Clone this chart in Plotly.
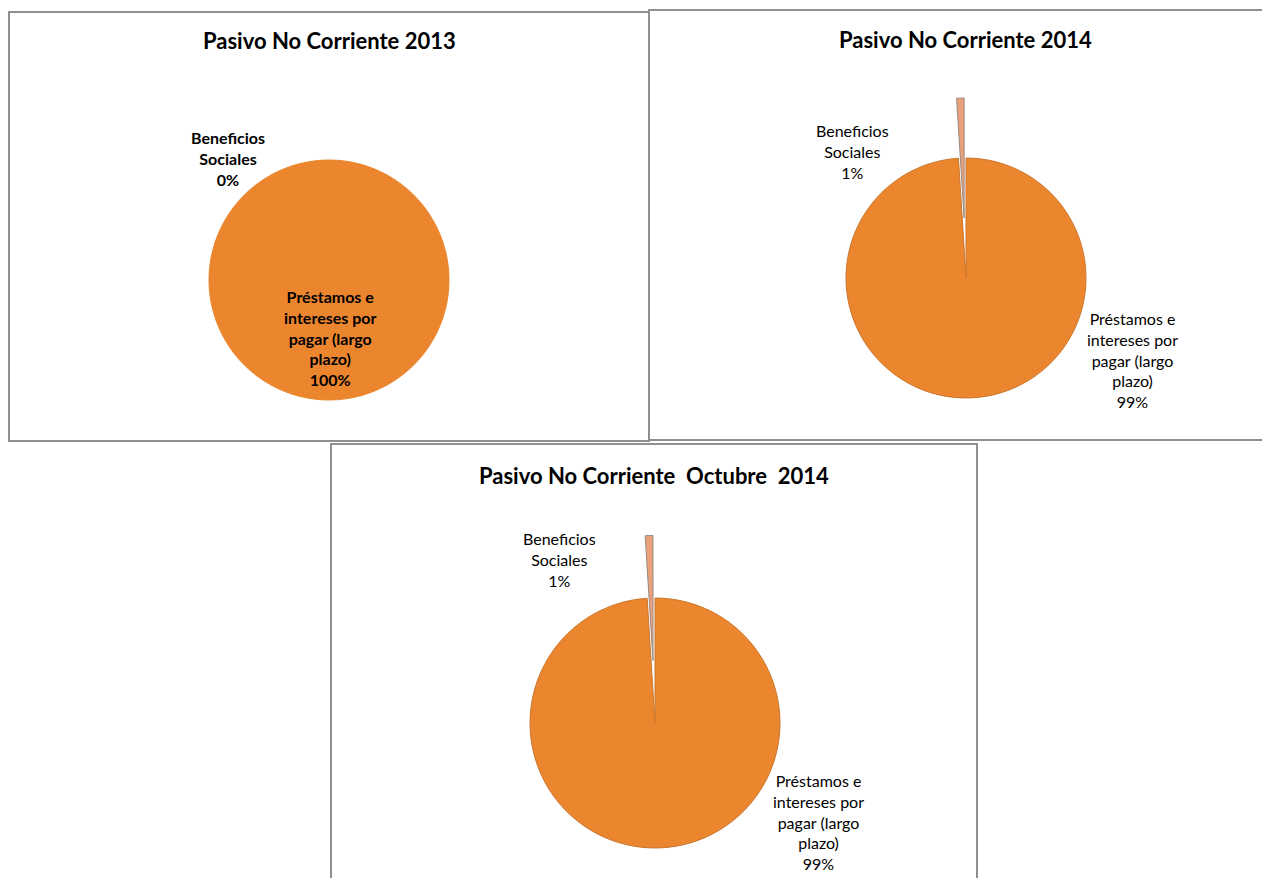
import textwrap
import plotly.graph_objects as go

# ---- data ----
categories = ["Beneficios Sociales", "Préstamos e intereses por pagar (largo plazo)"]
titles = ["Pasivo No Corriente 2013", "Pasivo No Corriente 2014", "Pasivo No Corriente  Octubre  2014"]
values_2013 = [0.3, 99.7]
values_2014 = [1.0, 99.0]
values_oct_2014 = [1.0, 99.0]

# page body has an 8px margin; figure sized to fit inside the 1270x886 window
OFF = 8
W, H = 1270 - 2 * OFF, 886 - 2 * OFF
ORANGE = "#EC862E"
SLIVER = "#EBA07C"
EDGE = "#C9762E"
SLEDGE = "#9a8a80"
CLEAR = "rgba(0,0,0,0)"
FONT = "Lato"


def px(x):
    return (x - OFF) / W


def py(y):
    return 1 - (y - OFF) / H


def dom(cx, cy, half):
    return dict(x=[px(cx - half), px(cx + half)], y=[py(cy + half), py(cy - half)])


def label_text(name, v, total):
    pct = round(v / total * 100)
    return "<br>".join(textwrap.wrap(name, 13)) + f"<br>{pct}%"


fig = go.Figure()


def add_pie(vals, domain, colors, line_colors, line_width, pull=None):
    # slices drawn in reverse order, clockwise from 12 o'clock, so the small
    # slice sits just left of the top
    kw = dict(values=vals[::-1], labels=categories[::-1], sort=False, direction="clockwise",
              rotation=0, textinfo="none", hoverinfo="skip", showlegend=False, domain=domain,
              marker=dict(colors=colors[::-1], line=dict(color=line_colors[::-1], width=line_width)))
    if pull is not None:
        kw["pull"] = pull[::-1]
    fig.add_trace(go.Pie(**kw))


# chart 1 (2013)
add_pie(values_2013, dom(329, 280, 120), [ORANGE, ORANGE], [ORANGE, ORANGE], 1)

# chart 2 (2014) with exploded slice
pull2 = 0.5
add_pie(values_2014, dom(966, 278, 120 * (1 + pull2)), [SLIVER, ORANGE], [SLEDGE, EDGE], 1, pull=[pull2, 0])

# chart 3 (Octubre 2014): main pie + exploded slice drawn as an offset trace
add_pie(values_oct_2014, dom(655, 723, 125), [CLEAR, ORANGE], [CLEAR, EDGE], 1)
add_pie(values_oct_2014, dom(653, 660.5, 125), [SLIVER, CLEAR], [SLEDGE, CLEAR], 1)

annotations = []
for t, (x, y) in zip(titles, [(329, 41), (966, 39), (654, 475)]):
    annotations.append(dict(text=f"<b>{t}</b>", x=px(x), y=py(y), xref="paper", yref="paper",
                            showarrow=False, xanchor="center", yanchor="middle",
                            font=dict(family=FONT, size=22, color="#000")))

label_sets = [
    (values_2013, [(228, 158), (330, 338)], True),
    (values_2014, [(853, 151), (1132, 360)], False),
    (values_oct_2014, [(559, 559), (818, 822)], False),
]
for vals, positions, bold in label_sets:
    total = sum(vals)
    for name, v, (x, y) in zip(categories, vals, positions):
        txt = label_text(name, v, total)
        if bold:
            txt = f"<b>{txt}</b>"
        annotations.append(dict(text=txt, x=px(x), y=py(y), xref="paper", yref="paper",
                                showarrow=False, xanchor="center", yanchor="middle", align="center",
                                font=dict(family=FONT, size=16, color="#000")))

box_line = dict(color="#8f8f8f", width=2)
shapes = [
    dict(type="rect", xref="paper", yref="paper", x0=px(9), x1=px(649), y0=py(441), y1=py(12), line=box_line),
    dict(type="rect", xref="paper", yref="paper", x0=px(649), x1=px(1280), y0=py(440), y1=py(10), line=box_line),
    dict(type="rect", xref="paper", yref="paper", x0=px(331), x1=px(977), y0=py(900), y1=py(444), line=box_line),
]

fig.update_layout(width=W, height=H, margin=dict(l=0, r=0, t=0, b=0),
                  paper_bgcolor="white", plot_bgcolor="white",
                  annotations=annotations, shapes=shapes,
                  font=dict(family=FONT))

fig.write_html("out.html")
